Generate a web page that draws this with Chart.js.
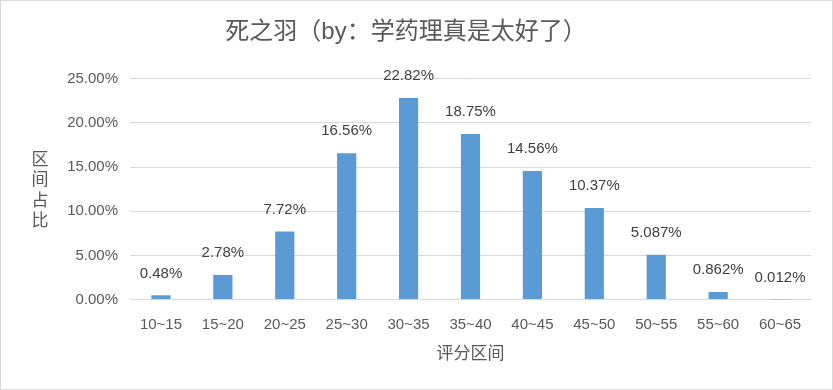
<!DOCTYPE html>
<html><head><meta charset="utf-8">
<script src="https://cdn.jsdelivr.net/npm/chart.js@4"></script>
<style>
html,body{margin:0;padding:0;background:#fff;}
#wrap{width:833px;height:390px;box-sizing:border-box;border:1px solid #d9d9d9;}
canvas{display:block;}
</style></head><body>
<div id="wrap"><canvas id="c" width="831" height="388"></canvas></div>
<script>
const categories = ['10~15','15~20','20~25','25~30','30~35','35~40','40~45','45~50','50~55','55~60','60~65'];
const shares = [0.48, 2.78, 7.72, 16.56, 22.82, 18.75, 14.56, 10.37, 5.087, 0.862, 0.012];
const shareLabels = ['0.48%','2.78%','7.72%','16.56%','22.82%','18.75%','14.56%','10.37%','5.087%','0.862%','0.012%'];
const yTickMax = 25, yTickStep = 5;
const titleText = '死之羽（by：学药理真是太好了）';
const xTitle = '评分区间';
const yTitle = '区间占比';

const FONT = "'Liberation Sans','Noto Sans CJK SC',sans-serif";

const labelPlugin = {
  id: 'barLabels',
  afterDatasetsDraw(chart) {
    const ctx = chart.ctx;
    const meta = chart.getDatasetMeta(0);
    ctx.save();
    ctx.font = "15px " + FONT;
    ctx.fillStyle = '#404040';
    ctx.textAlign = 'center';
    ctx.textBaseline = 'middle';
    meta.data.forEach((bar, i) => {
      ctx.fillText(shareLabels[i], bar.x, bar.y - 22);
    });
    ctx.restore();
  }
};
const yTitlePlugin = {
  id: 'yTitleVertical',
  afterDraw(chart) {
    const ctx = chart.ctx;
    ctx.save();
    ctx.font = "17px 'Noto Sans CJK SC',sans-serif";
    ctx.fillStyle = '#595959';
    ctx.textAlign = 'center';
    ctx.textBaseline = 'middle';
    const chars = Array.from(yTitle);
    const cy = (chart.chartArea.top + chart.chartArea.bottom) / 2;
    const step = 20.5;
    chars.forEach((ch, i) => {
      ctx.fillText(ch, 39, cy + (i - (chars.length - 1) / 2) * step);
    });
    ctx.restore();
  }
};

new Chart(document.getElementById('c'), {
  type: 'bar',
  data: {
    labels: categories,
    datasets: [{
      data: shares,
      backgroundColor: '#5b9bd5',
      borderWidth: 0,
      categoryPercentage: 1,
      barPercentage: 0.31
    }]
  },
  options: {
    responsive: false,
    animation: false,
    layout: { padding: { left: 0, right: 21, top: 0, bottom: 26 } },
    plugins: {
      legend: { display: false },
      tooltip: { enabled: false },
      title: {
        display: true,
        text: titleText,
        color: '#595959',
        font: { family: "'Liberation Sans','Noto Sans CJK SC',sans-serif", size: 24, weight: 'normal' },
        padding: { top: 17, bottom: 32 }
      }
    },
    scales: {
      x: {
        grid: { display: false, drawTicks: false },
        border: { display: true, color: '#d9d9d9', width: 1 },
        ticks: { color: '#595959', font: { family: FONT, size: 15 }, padding: 16, maxRotation: 0, autoSkip: false },
        title: { display: true, text: xTitle, color: '#595959', font: { family: "'Noto Sans CJK SC',sans-serif", size: 17 }, padding: { top: -7, bottom: 0 } }
      },
      y: {
        min: 0, max: yTickMax,
        grid: { color: '#d9d9d9', drawTicks: false },
        border: { display: false },
        ticks: { stepSize: yTickStep, color: '#595959', font: { family: FONT, size: 15 }, padding: 12,
          callback: v => v.toFixed(2) + '%' },
        afterFit(scale) { scale.width = 129; }
      }
    }
  },
  plugins: [labelPlugin, yTitlePlugin]
});
</script>
</body></html>
